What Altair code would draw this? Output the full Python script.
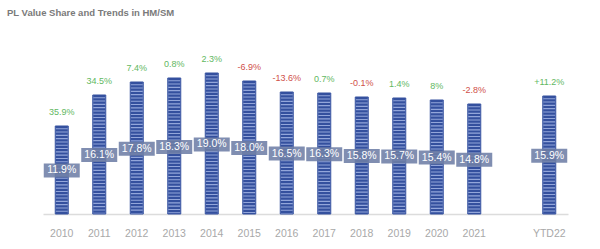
import altair as alt
import pandas as pd

categories = ["2010", "2011", "2012", "2013", "2014", "2015", "2016", "2017",
              "2018", "2019", "2020", "2021", "YTD22"]
axis_order = ["2010", "2011", "2012", "2013", "2014", "2015", "2016", "2017",
              "2018", "2019", "2020", "2021", " ", "YTD22"]
value_index = [88, 119, 132, 136, 141, 133, 122, 121, 117, 116, 114, 110, 118]
share = [11.9, 16.1, 17.8, 18.3, 19.0, 18.0, 16.5, 16.3, 15.8, 15.7, 15.4, 14.8, 15.9]
share_labels = ["11.9%", "16.1%", "17.8%", "18.3%", "19.0%", "18.0%", "16.5%",
                "16.3%", "15.8%", "15.7%", "15.4%", "14.8%", "15.9%"]
growth = [35.9, 34.5, 7.4, 0.8, 2.3, -6.9, -13.6, 0.7, -0.1, 1.4, 8, -2.8, 11.2]
growth_labels = ["35.9%", "34.5%", "7.4%", "0.8%", "2.3%", "-6.9%", "-13.6%",
                 "0.7%", "-0.1%", "1.4%", "8%", "-2.8%", "+11.2%"]

df = pd.DataFrame({
    "cat": categories,
    "value": value_index,
    "share": share,
    "share_label": share_labels,
    "growth": growth,
    "growth_label": growth_labels,
})

FONT = "Liberation Sans"

x = alt.X("cat:N", scale=alt.Scale(domain=axis_order, paddingInner=0, paddingOuter=0),
          sort=axis_order, title=None,
          axis=alt.Axis(labelAngle=0, ticks=False, domainColor="#dcdcdc", domainWidth=1.5,
                        labelColor="#a8a8a8", labelFont=FONT, labelFontSize=10.5,
                        labelPadding=14, grid=False))
y_val = alt.Y("value:Q", scale=alt.Scale(domain=[0, 174], nice=False, zero=True), axis=None)
y_share = alt.Y("share:Q", scale=alt.Scale(domain=[0, 47.5], nice=False, zero=True), axis=None)

base = alt.Chart(df)

bars = base.mark_bar(width=13, color="#93a6da", stroke="#34509e", strokeWidth=1).encode(
    x=x, y=y_val)
stripes = base.mark_rule(strokeWidth=12, color="#34509e", strokeDash=[2.2, 1.1],
                         strokeCap="butt").encode(x=x, y=y_val, y2=alt.datum(0))
growth_text = base.mark_text(font=FONT, fontSize=9, dy=-14, baseline="middle").encode(
    x=x, y=y_val, text="growth_label:N",
    color=alt.condition(alt.datum.growth < 0, alt.value("#d0504a"), alt.value("#62b862")))

val_layer = alt.layer(bars, stripes, growth_text)

boxes = base.mark_tick(size=36, thickness=14, color="#6e7ea6", opacity=0.88,
                       orient="horizontal").encode(x=x, y=y_share)
box_text = base.mark_text(font=FONT, fontSize=10.5, color="#ffffff", baseline="middle").encode(
    x=x, y=y_share, text="share_label:N")
share_layer = alt.layer(boxes, box_text)

chart = alt.layer(val_layer, share_layer).resolve_scale(y="independent").properties(
    width=525, height=174,
    background="white",
    autosize=alt.AutoSizeParams(type="none"),
    padding={"left": 43, "top": 40, "right": 32, "bottom": 35},
    title=alt.TitleParams("PL Value Share and Trends in HM/SM", anchor="start", dx=-36,
                          offset=23, font=FONT, fontSize=9.5, fontWeight="bold",
                          color="#7a7a7a"),
).configure_view(stroke=None)

chart.save("out.html", embed_options={"renderer": "svg", "actions": False})
